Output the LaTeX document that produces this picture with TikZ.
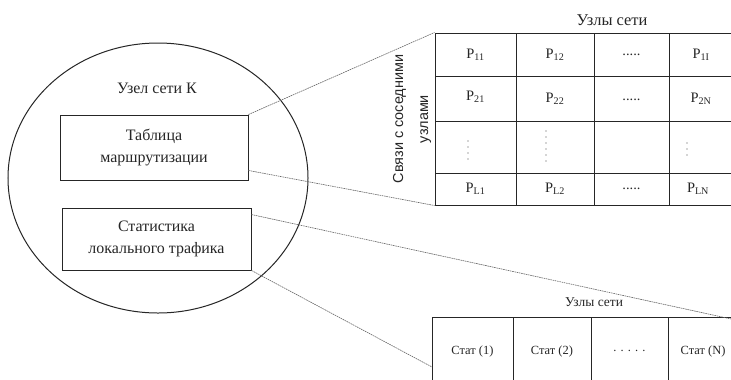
\documentclass[tikz,border=0pt]{standalone}
\usepackage{fontspec}
\setmainfont{Liberation Serif}
\newfontfamily\labsans{Liberation Sans}
\usetikzlibrary{shapes.geometric,calc}
\begin{document}
\begin{tikzpicture}[x=1bp,y=-1bp,
  ink/.style={text=black!85},
  bigtxt/.style={ink, font=\fontsize{16}{22}\selectfont, align=center, inner sep=0},
  box/.style={draw=black!85, line width=0.9bp, inner sep=0, bigtxt},
  cell/.style={draw=black!85, line width=1bp, inner sep=0, ink, font=\fontsize{14.5}{16}\selectfont},
  stcell/.style={draw=black!85, line width=1bp, inner sep=0, ink, font=\fontsize{12.5}{14}\selectfont},
  link/.style={draw=black!60, line width=0.6bp, dash pattern=on 1.6bp off 0.7bp},
  dotc/.style={black!70}]
\useasboundingbox (0,0) rectangle (731,379);
\fill[white] (0,0) rectangle (731,379);

% node K
\node (K) [ellipse, draw=black!85, line width=1bp, minimum width=300bp, minimum height=270bp, inner sep=0] at (158,178) {};
\node (Ktitle) [bigtxt] at (157,88) {Узел сети К};
\node (tab) [box, minimum width=188bp, minimum height=65bp] at (154,147.5) {Таблица\\маршрутизации};
\node (stat) [box, minimum width=189bp, minimum height=62bp] at (156.5,239) {Статистика\\локального трафика};

% routing table
\node (ttitle) [ink, font=\fontsize{16.5}{18}\selectfont, inner sep=0] at (612,20) {Узлы сети};
\node (vlab) [ink, rotate=90, align=center, inner sep=0, font=\labsans\fontsize{14.5}{25}\selectfont] at (412,119) {Связи с соседними\\узлами};

\node (c11) [cell, minimum width=81bp, minimum height=43bp] at (475.5,54.5) {P\textsubscript{11}};
\node (c12) [cell, minimum width=78bp, minimum height=43bp] at (555,54.5) {P\textsubscript{12}};
\node (c13) [cell, minimum width=75bp, minimum height=43bp] at (631.5,54.5) {.....};
\node (c14) [cell, minimum width=64bp, minimum height=43bp] at (701,54.5) {P\textsubscript{1I}};

\node (c21) [cell, minimum width=81bp, minimum height=45bp] at (475.5,98.5) {\raisebox{5bp}{P\textsubscript{21}}};
\node (c22) [cell, minimum width=78bp, minimum height=45bp] at (555,98.5) {P\textsubscript{22}};
\node (c23) [cell, minimum width=75bp, minimum height=45bp] at (631.5,98.5) {\raisebox{-5bp}{.....}};
\node (c24) [cell, minimum width=64bp, minimum height=45bp] at (701,98.5) {P\textsubscript{2N}};

\node (c31) [cell, minimum width=81bp, minimum height=52bp] at (475.5,147) {};
\node (c32) [cell, minimum width=78bp, minimum height=52bp] at (555,147) {};
\node (c33) [cell, minimum width=75bp, minimum height=52bp] at (631.5,147) {};
\node (c34) [cell, minimum width=64bp, minimum height=52bp] at (701,147) {};
\foreach \yy in {141,147,153,159} \fill[dotc] (468,\yy) circle (0.6bp);
\foreach \yy in {131,137,143,149,155,161} \fill[dotc] (546,\yy) circle (0.6bp);
\foreach \yy in {143,149,155} \fill[dotc] (687,\yy) circle (0.6bp);

\node (c41) [cell, minimum width=81bp, minimum height=32bp] at (475.5,189) {P\textsubscript{L1}};
\node (c42) [cell, minimum width=78bp, minimum height=32bp] at (555,189) {P\textsubscript{L2}};
\node (c43) [cell, minimum width=75bp, minimum height=32bp] at (631.5,189) {.....};
\node (c44) [cell, minimum width=64bp, minimum height=32bp] at (701,189) {\hspace*{-6bp}P\textsubscript{LN}};

% statistics table
\node (stitle) [ink, font=\fontsize{13.5}{15}\selectfont, inner sep=0] at (594,302) {Узлы сети};
\node (s1) [stcell, minimum width=81bp, minimum height=68bp] at (472.5,351) {Стат (1)};
\node (s2) [stcell, minimum width=78bp, minimum height=68bp] at (552,351) {Стат (2)};
\node (s3) [stcell, minimum width=77bp, minimum height=68bp] at (629.5,351) {. . . . .};
\node (s4) [stcell, minimum width=70bp, minimum height=68bp] at (703,351) {Стат (N)};

% connectors
\coordinate (Bend) at (745,322);
\coordinate (Bleft) at (432,367);
\draw[link] (tab.north east) -- (c11.north west);
\draw[link] ($(tab.south east)+(0,-10)$) -- (c41.south west);
\draw[link] ($(stat.north east)+(0,7)$) -- (Bend);
\draw[link] (stat.south east) -- (Bleft);
\end{tikzpicture}
\end{document}
